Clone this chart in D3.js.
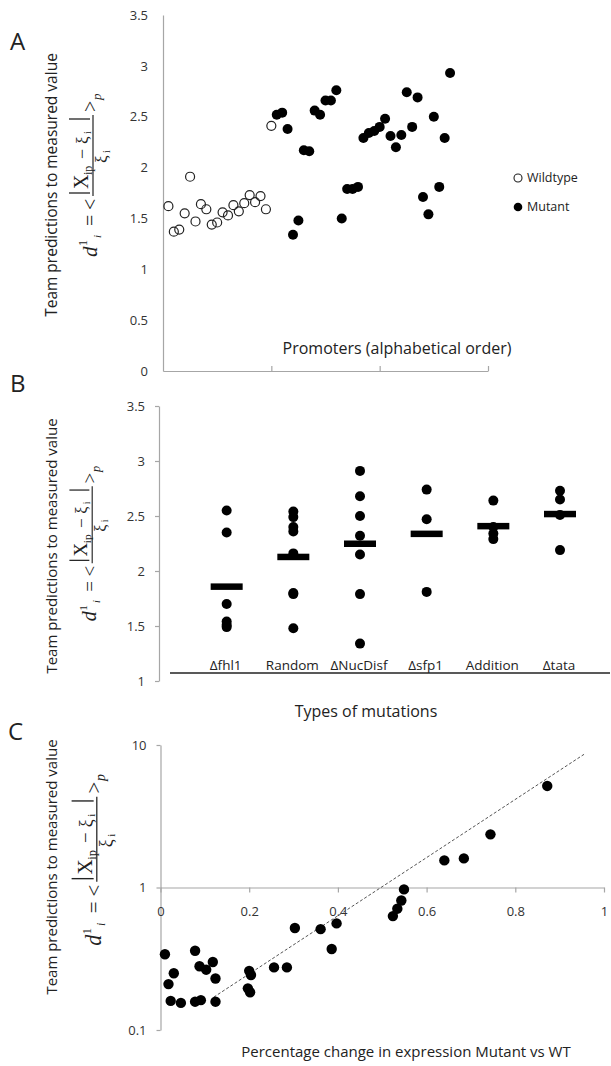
<!DOCTYPE html>
<html>
<head>
<meta charset="utf-8">
<script src="https://d3js.org/d3.v7.min.js"></script>
<style>
  body { margin: 0; background: #fff; }
  text { font-family: "Open Sans", Lato, sans-serif; fill: #222; }
  .axis path, .axis line { stroke: #a6a6a6; stroke-width: 1.2; }
  .axis text { font-family: "Open Sans", Lato, sans-serif; font-size: 13px; fill: #333; }
  .math text { font-family: "Liberation Serif", "DejaVu Serif", serif; fill: #222; }
</style>
</head>
<body>
<div id="chart"></div>
<script>
// Panel A: promoters in alphabetical order (wildtype first, then mutants)
var wildtype = [1.62, 1.37, 1.39, 1.55, 1.91, 1.47, 1.64, 1.59, 1.44, 1.46,
                1.56, 1.53, 1.63, 1.57, 1.65, 1.73, 1.66, 1.72, 1.59, 2.41];
var mutant = [2.52, 2.54, 2.38, 1.34, 1.48, 2.17, 2.16, 2.56, 2.52, 2.66, 2.66,
              2.76, 1.50, 1.79, 1.79, 1.81, 2.29, 2.34, 2.36, 2.40, 2.48, 2.31,
              2.20, 2.32, 2.74, 2.40, 2.69, 1.71, 1.54, 2.50, 1.81, 2.29, 2.93];
var ticksA = [0, 0.5, 1, 1.5, 2, 2.5, 3, 3.5];

// Panel B: types of mutations
var mutationTypes = ["\u0394fhl1", "Random", "\u0394NucDisf", "\u0394sfp1", "Addition", "\u0394tata"];
var mutationValues = [
  [2.55, 2.35, 1.70, 1.54, 1.51, 1.49],
  [2.54, 2.49, 2.40, 2.36, 2.16, 1.80, 1.79, 1.48],
  [2.91, 2.68, 2.50, 2.32, 2.15, 1.79, 1.34],
  [2.74, 2.47, 1.81],
  [2.64, 2.40, 2.34, 2.29],
  [2.73, 2.65, 2.51, 2.19]
];
var mutationMeans = [1.86, 2.13, 2.25, 2.34, 2.41, 2.52];
var ticksB = [1, 1.5, 2, 2.5, 3, 3.5];

// Panel C: percentage change vs prediction error
var changeX = [0.010, 0.018, 0.023, 0.030, 0.046, 0.078, 0.078, 0.088, 0.091, 0.103,
               0.118, 0.124, 0.124, 0.197, 0.200, 0.202, 0.204, 0.256, 0.285, 0.303,
               0.361, 0.386, 0.397, 0.524, 0.534, 0.543, 0.549, 0.640, 0.684, 0.744, 0.872];
var changeY = [0.34, 0.21, 0.16, 0.25, 0.155, 0.36, 0.158, 0.28, 0.162, 0.265,
               0.30, 0.23, 0.158, 0.196, 0.26, 0.184, 0.243, 0.275, 0.275, 0.52,
               0.51, 0.37, 0.56, 0.63, 0.71, 0.81, 0.97, 1.55, 1.60, 2.36, 5.16];
var trendX = [0.12, 0.955];
var trendY = [0.17, 8.6];
var ticksCx = [0, 0.2, 0.4, 0.6, 0.8, 1];
var ticksCy = [0.1, 1, 10];

var svg = d3.select("#chart").append("svg")
  .attr("width", 611)
  .attr("height", 1066);

svg.append("rect").attr("width", 611).attr("height", 1066).attr("fill", "#fff");

// formula d^1_i = < |X_ip - xi_i| / xi_i >_p, written sideways
function drawFormula(cx, cy, k) {
  var g = svg.append("g").attr("class", "math")
    .attr("transform", `translate(${cx},${cy}) rotate(-90) scale(${k})`);
  function t(x, y, str, size, italic) {
    g.append("text").attr("x", x).attr("y", y)
      .attr("font-size", size)
      .attr("font-style", italic ? "italic" : "normal")
      .text(str);
  }
  t(-77, 0, "d", 21, true);
  t(-66, -10, "1", 12);
  t(-58, 4, "i", 11, true);
  t(-46, 0, "=", 20);
  t(-30, 0, "<", 20);
  // numerator
  t(-9, -9, "X", 20);
  t(5, -5, "ip", 12);
  t(21, -9, "\u2212", 18);
  t(36, -9, "\u03be", 17);
  t(46, -6, "i", 10);
  [-13, 61].forEach(function(x) {
    g.append("line").attr("x1", x).attr("x2", x).attr("y1", -28).attr("y2", -7)
      .attr("stroke", "#222").attr("stroke-width", 1.3);
  });
  g.append("line").attr("x1", -16).attr("x2", 65).attr("y1", -4).attr("y2", -4)
    .attr("stroke", "#222").attr("stroke-width", 1.2);
  // denominator
  t(17, 10, "\u03be", 17);
  t(27, 13, "i", 10);
  t(68, 0, ">", 20);
  t(80, 4, "p", 13, true);
}

function yLabel(x, y, size) {
  svg.append("text")
    .attr("transform", `translate(${x},${y}) rotate(-90)`)
    .attr("text-anchor", "middle")
    .attr("font-size", size)
    .text("Team predictions to measured value");
}

function panelLetter(x, y, s) {
  svg.append("text").attr("x", x).attr("y", y).attr("font-size", 24).text(s);
}

// ---------------- Panel A ----------------
var xA = d3.scaleLinear().domain([0, 60]).range([163, 488]);
var yA = d3.scaleLinear().domain([0, 3.5]).range([371, 15]);

svg.append("g").attr("class", "axis")
  .attr("transform", "translate(163,0)")
  .call(d3.axisLeft(yA).tickValues(ticksA).tickSize(0).tickPadding(15).tickFormat(d3.format("")));

svg.append("g").attr("class", "axis")
  .attr("transform", `translate(0,${yA(0)})`)
  .call(d3.axisTop(xA).tickValues([20, 40, 60]).tickSizeInner(5).tickSizeOuter(0).tickFormat(""));

svg.append("g").selectAll("circle.wt")
  .data(wildtype).enter().append("circle")
  .attr("cx", (d, i) => xA(i + 1))
  .attr("cy", d => yA(d))
  .attr("r", 4.5)
  .attr("fill", "none")
  .attr("stroke", "#222")
  .attr("stroke-width", 1.2);

svg.append("g").selectAll("circle.mut")
  .data(mutant).enter().append("circle")
  .attr("cx", (d, i) => xA(wildtype.length + i + 1))
  .attr("cy", d => yA(d))
  .attr("r", 5)
  .attr("fill", "#000");

// legend
svg.append("circle").attr("cx", 518).attr("cy", 178).attr("r", 4)
  .attr("fill", "none").attr("stroke", "#222").attr("stroke-width", 1.1);
svg.append("text").attr("x", 527).attr("y", 178).attr("dy", "0.35em")
  .attr("font-size", 12.5).text("Wildtype");
svg.append("circle").attr("cx", 518).attr("cy", 207).attr("r", 4.3).attr("fill", "#000");
svg.append("text").attr("x", 527).attr("y", 207).attr("dy", "0.35em")
  .attr("font-size", 12.5).text("Mutant");

svg.append("text").attr("x", 397).attr("y", 354).attr("text-anchor", "middle")
  .attr("font-size", 16).text("Promoters (alphabetical order)");

panelLetter(10, 50, "A");
yLabel(57, 185, 15.5);
drawFormula(97, 180, 1);

// ---------------- Panel B ----------------
var xB = d3.scaleLinear().domain([0, 6.75]).range([160, 610]);
var yB = d3.scaleLinear().domain([1, 3.5]).range([681, 406]);

svg.append("g").attr("class", "axis")
  .attr("transform", "translate(159,0)")
  .call(d3.axisLeft(yB).tickValues(ticksB).tickSizeInner(4).tickSizeOuter(0).tickPadding(10).tickFormat(d3.format("")));

// category baseline
svg.append("line").attr("x1", 170).attr("x2", 610).attr("y1", 673).attr("y2", 673)
  .attr("stroke", "#222").attr("stroke-width", 1.3);

mutationTypes.forEach(function(name, i) {
  svg.append("g").selectAll("circle")
    .data(mutationValues[i]).enter().append("circle")
    .attr("cx", xB(i + 1))
    .attr("cy", d => yB(d))
    .attr("r", 5)
    .attr("fill", "#000");

  svg.append("rect")
    .attr("x", xB(i + 1) - 16)
    .attr("y", yB(mutationMeans[i]) - 3)
    .attr("width", 32)
    .attr("height", 6.5)
    .attr("fill", "#000");

  svg.append("text")
    .attr("x", xB(i + 1) - 1)
    .attr("y", 670)
    .attr("text-anchor", "middle")
    .attr("font-size", 13.5)
    .text(name);
});

svg.append("text").attr("x", 366).attr("y", 717).attr("text-anchor", "middle")
  .attr("font-size", 16).text("Types of mutations");

panelLetter(10, 392, "B");
yLabel(57, 546, 15);
drawFormula(96, 548, 0.95);

// ---------------- Panel C ----------------
var xC = d3.scaleLinear().domain([0, 1]).range([160.5, 604]);
var yC = d3.scaleLog().domain([0.1, 10]).range([1030, 745]);

svg.append("g").attr("class", "axis")
  .attr("transform", "translate(160.5,0)")
  .call(d3.axisLeft(yC).tickValues(ticksCy).tickSizeInner(4).tickSizeOuter(0).tickPadding(10).tickFormat(d3.format("")));

svg.append("g").attr("class", "axis")
  .attr("transform", `translate(0,${yC(1)})`)
  .call(d3.axisBottom(xC).tickValues(ticksCx).tickSizeInner(5).tickSizeOuter(0).tickPadding(14).tickFormat(d3.format("")));

var trendLine = d3.line()
  .x(d => xC(d[0]))
  .y(d => yC(d[1]));

svg.append("path")
  .datum(d3.zip(trendX, trendY))
  .attr("d", trendLine)
  .attr("fill", "none")
  .attr("stroke", "#555")
  .attr("stroke-width", 1)
  .attr("stroke-dasharray", "3,2");

svg.append("g").selectAll("circle")
  .data(d3.zip(changeX, changeY)).enter().append("circle")
  .attr("cx", d => xC(d[0]))
  .attr("cy", d => yC(d[1]))
  .attr("r", 5.2)
  .attr("fill", "#000");

svg.append("text").attr("x", 406).attr("y", 1057).attr("text-anchor", "middle")
  .attr("font-size", 15).text("Percentage change in expression Mutant vs WT");

panelLetter(8, 740, "C");
yLabel(57, 867, 15);
drawFormula(101, 865, 1.05);
</script>
</body>
</html>
